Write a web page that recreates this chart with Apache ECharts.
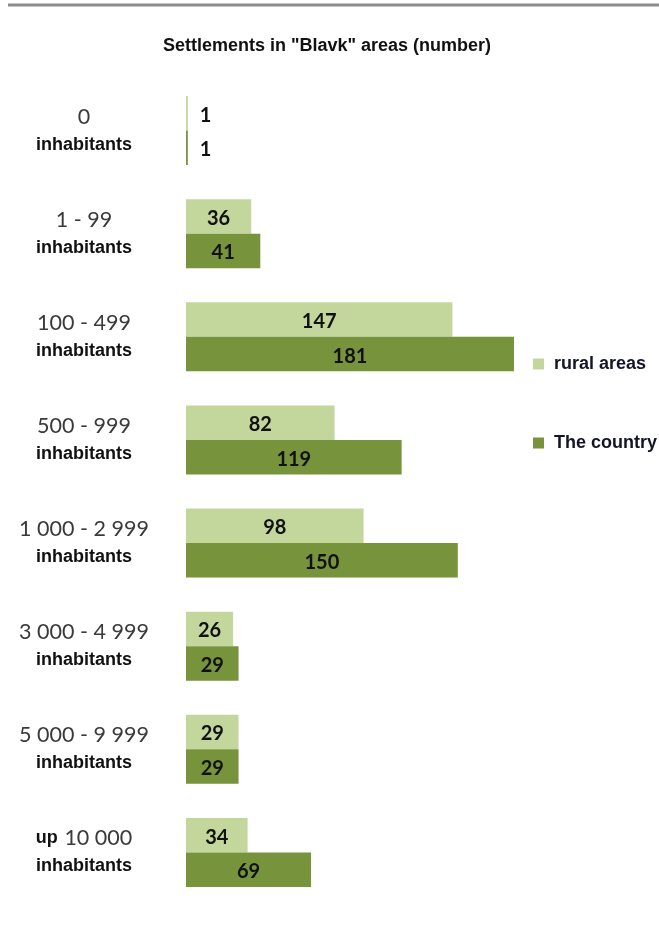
<!DOCTYPE html>
<html>
<head>
<meta charset="utf-8">
<script src="https://cdn.jsdelivr.net/npm/echarts@6/dist/echarts.min.js"></script>
<style>
  html, body { margin: 0; padding: 0; background: #ffffff; }
  #chart { width: 659px; height: 929px; }
</style>
</head>
<body>
<div id="chart"></div>
<script>
// Settlement size classes (range part of each label)
const sizeClasses = ['0', '1 - 99', '100 - 499', '500 - 999', '1 000 - 2 999', '3 000 - 4 999', '5 000 - 9 999', '10 000'];
// Number of settlements per size class
const ruralAreas = [1, 36, 147, 82, 98, 26, 29, 34];
const theCountry = [1, 41, 181, 119, 150, 29, 29, 69];
const seriesNames = ['rural areas', 'The country'];
const titleText = 'Settlements in "Blavk" areas (number)';

const LIGHT = '#c3d69b';
const DARK = '#77933c';
const valueFont = 'Lato, "Open Sans", sans-serif';
const boldFont = '"Liberation Sans", Arial, sans-serif';

// Very short bars carry their value outside, to the right
function toItems(values) {
  return values.map(v => v < 5
    ? { value: v, label: { position: 'right', distance: 12 } }
    : { value: v });
}

const barLabel = {
  show: true,
  position: 'inside',
  offset: [0, 2],
  color: '#111',
  fontFamily: valueFont,
  fontWeight: 'bold',
  fontSize: 20
};

const chart = echarts.init(document.getElementById('chart'), null, { renderer: 'canvas' });

chart.setOption({
  animation: false,
  backgroundColor: '#ffffff',
  title: {
    text: titleText,
    left: 322,
    textAlign: 'center',
    top: 32,
    textStyle: { fontFamily: boldFont, fontWeight: 'bold', fontSize: 18, color: '#111' }
  },
  legend: {
    orient: 'vertical',
    left: 528,
    top: 350,
    itemWidth: 11,
    itemHeight: 11,
    itemGap: 61,
    icon: 'rect',
    data: seriesNames,
    textStyle: { fontFamily: boldFont, fontWeight: 'bold', fontSize: 18, color: '#141428', padding: [0, 0, 0, 5] }
  },
  grid: { left: 186, right: 110.6, top: 79, bottom: 25, containLabel: false },
  xAxis: {
    type: 'value',
    min: 0,
    max: 200,
    show: false
  },
  yAxis: {
    type: 'category',
    inverse: true,
    data: sizeClasses,
    axisLine: { show: false },
    axisTick: { show: false },
    splitLine: { show: false },
    axisLabel: {
      margin: 102,
      align: 'center',
      formatter: function (v) {
        if (v === '10 000') return '{up|up}  {r|' + v + '}\n{b|inhabitants}';
        return '{r|' + v + '}\n{b|inhabitants}';
      },
      rich: {
        r: { fontFamily: valueFont, fontSize: 21.5, color: '#3a3a3a', lineHeight: 28 },
        up: { fontFamily: boldFont, fontWeight: 'bold', fontSize: 18, color: '#111', lineHeight: 28 },
        b: { fontFamily: boldFont, fontWeight: 'bold', fontSize: 18, color: '#111', lineHeight: 28 }
      }
    }
  },
  series: [
    {
      name: seriesNames[0],
      type: 'bar',
      data: toItems(ruralAreas),
      itemStyle: { color: LIGHT },
      barGap: '0%',
      barCategoryGap: '33%',
      label: barLabel
    },
    {
      name: seriesNames[1],
      type: 'bar',
      data: toItems(theCountry),
      itemStyle: { color: DARK },
      barGap: '0%',
      barCategoryGap: '33%',
      label: barLabel
    }
  ],
  graphic: [
    {
      type: 'line',
      shape: { x1: 8, y1: 5, x2: 659, y2: 5 },
      style: { stroke: '#8c8c8c', lineWidth: 3 }
    }
  ]
});
</script>
</body>
</html>
